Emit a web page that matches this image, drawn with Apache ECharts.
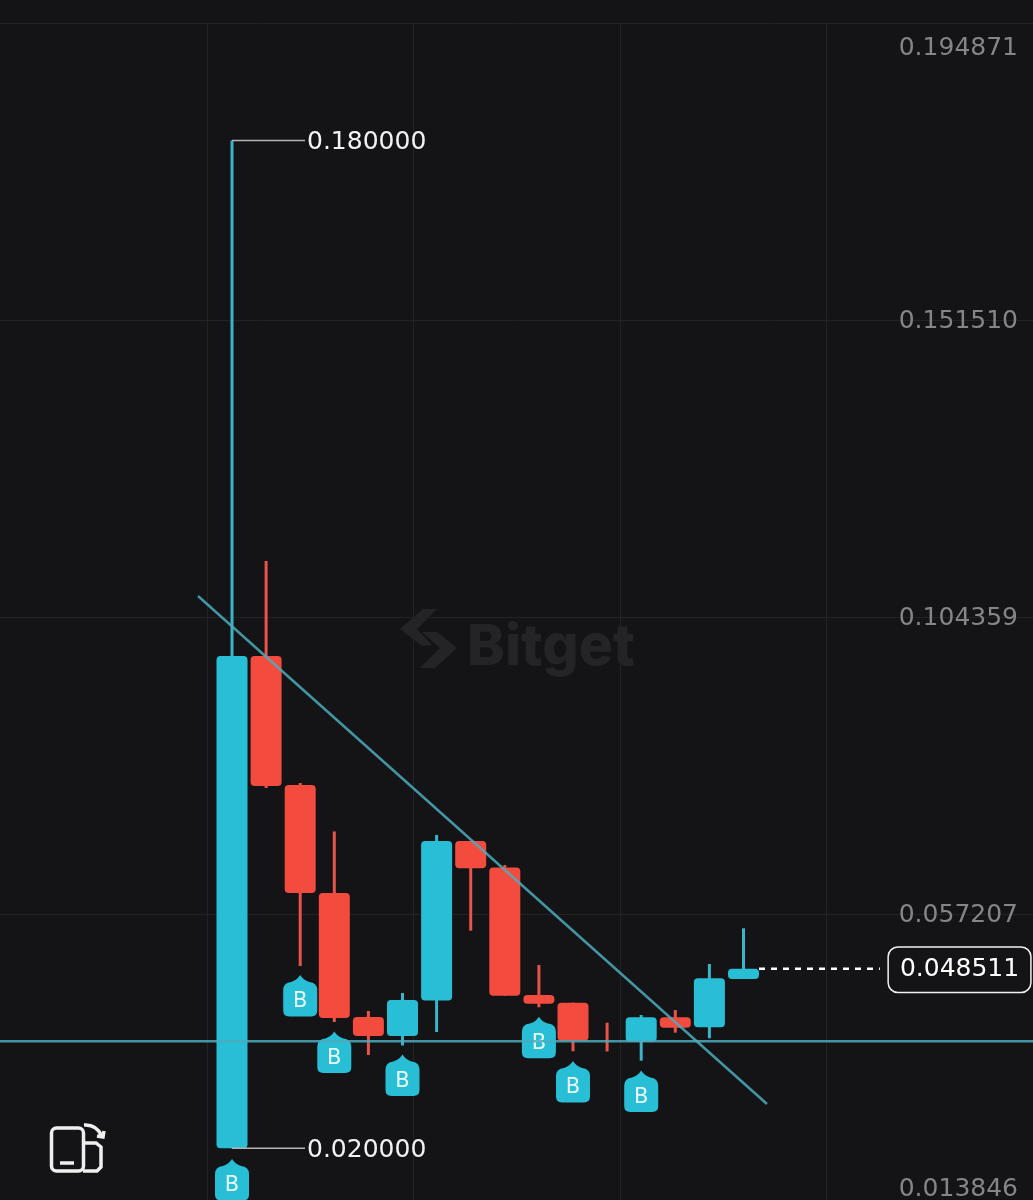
<!DOCTYPE html>
<html lang="en">
<head>
    <meta charset="UTF-8">
    <title>Bitget kline</title>
    <script src="https://cdn.jsdelivr.net/npm/echarts@6/dist/echarts.min.js"></script>
    <style>
        *{
            margin: 0;
            padding: 0;
        }
        body{
            background-color: #141417;
            overflow: hidden;
        }
    </style>
</head>
<body>
<div id="main" style="width:1033px;height:1200px;"></div>

<script>
    // candles, left to right
    var candleIndex = [0, 1, 2, 3, 4, 5, 6, 7, 8, 9, 10, 11, 12, 13, 14, 15];
    var openVals = [0.020000, 0.098167, 0.077687, 0.060541, 0.040854, 0.037838, 0.043474, 0.068796, 0.064589, 0.044347, 0.043125, 0.037000, 0.036933, 0.040807, 0.039219, 0.046887];
    var closeVals = [0.098167, 0.077528, 0.060541, 0.040696, 0.037838, 0.043553, 0.068796, 0.064462, 0.044236, 0.042966, 0.037092, 0.037000, 0.040807, 0.039156, 0.046998, 0.048511];
    var lowVals = [0.020000, 0.077210, 0.048951, 0.040060, 0.034821, 0.036330, 0.038473, 0.054555, 0.044236, 0.042394, 0.035409, 0.035377, 0.033916, 0.038362, 0.037473, 0.046887];
    var highVals = [0.180000, 0.113249, 0.078004, 0.070304, 0.041807, 0.044665, 0.069749, 0.068796, 0.064986, 0.049110, 0.043125, 0.039949, 0.041172, 0.041966, 0.049269, 0.054936];

    // buy markers: candle and price of the marker tip
    var buyIndex = [0, 2, 3, 5, 9, 10, 12];
    var buyPrice = [0.018310, 0.047522, 0.038552, 0.034901, 0.040902, 0.033869, 0.032361];

    // drawn lines
    var trendX = [-0.997, 15.689];
    var trendY = [0.107692, 0.027042];
    var supportPrice = 0.037012;

    var lastPrice = 0.048511;
    var maxPrice = 0.180000;
    var minPrice = 0.020000;

    // y axis
    var priceLabels = [0.013846, 0.057207, 0.104359, 0.151510, 0.194871];
    var priceGrid = [0.010050, 0.057207, 0.104359, 0.151510, 0.198660];
    // vertical grid lines, in candle units
    var timeGrid = [-0.733, 5.308, 11.378, 17.419];

    var xMin = -6.804;
    var xMax = 23.49;

    var upColor = '#27BED6';
    var downColor = '#F44B3F';
    var upWick = '#3AB4C8';
    var downWick = '#E8534A';
    var lineColor = 'rgba(76,172,188,0.85)';
    var font = 'DejaVu Sans';

    var candleData = candleIndex.map(function (x, i) {
        return [x, openVals[i], closeVals[i], lowVals[i], highVals[i]];
    });
    var buyData = buyIndex.map(function (x, i) {
        return [x, buyPrice[i]];
    });
    var trendData = trendX.map(function (x, i) {
        return [x, trendY[i]];
    });

    function renderCandle(params, api) {
        var x = api.value(0);
        var open = api.coord([x, api.value(1)]);
        var close = api.coord([x, api.value(2)]);
        var low = api.coord([x, api.value(3)]);
        var high = api.coord([x, api.value(4)]);
        var isUp = api.value(2) > api.value(1);
        var top = Math.min(open[1], close[1]);
        var h = Math.abs(open[1] - close[1]);
        var children = [{
            type: 'rect',
            shape: {x: open[0] - 1.5, y: high[1], width: 3, height: low[1] - high[1]},
            style: {fill: isUp ? upWick : downWick}
        }];
        if (h > 0) {
            children.push({
                type: 'rect',
                shape: {x: open[0] - 15.5, y: top, width: 31, height: h, r: 4},
                style: {fill: isUp ? upColor : downColor}
            });
        }
        return {type: 'group', children: children};
    }

    function priceLabel(v) {
        return {show: true, distance: 2, offset: [0, 2], formatter: v.toFixed(6), color: '#F2F2F2', fontFamily: font, fontSize: 25};
    }

    var lastLabel = priceLabel(lastPrice);
    lastLabel.distance = 9;
    lastLabel.offset = [0, 1];
    lastLabel.color = '#FFFFFF';
    lastLabel.lineHeight = 26;
    lastLabel.backgroundColor = '#141417';
    lastLabel.borderColor = '#F2F2F2';
    lastLabel.borderWidth = 1.5;
    lastLabel.borderRadius = 9;
    lastLabel.padding = [11, 11, 7, 11];

    var myChart = echarts.init(document.getElementById('main'));
    var option = {
        animation: false,
        backgroundColor: '#141417',
        grid: {left: 0, right: 0, top: 23, bottom: -11, outerBoundsMode: 'none'},
        xAxis: {
            type: 'value',
            min: xMin,
            max: xMax,
            axisLine: {show: false},
            axisLabel: {show: false},
            axisTick: {show: false, customValues: timeGrid},
            splitLine: {show: true, lineStyle: {color: '#232326', width: 1}}
        },
        yAxis: {
            type: 'value',
            position: 'right',
            min: priceGrid[0],
            max: priceGrid[4],
            axisLine: {show: false},
            axisTick: {show: false, customValues: priceGrid},
            axisLabel: {
                inside: true,
                margin: 15,
                customValues: priceLabels,
                formatter: function (v) { return '{p|' + v.toFixed(6) + '}'; },
                rich: {
                    p: {color: '#858587', fontFamily: font, fontSize: 25, padding: [4, 0, 0, 0]}
                }
            },
            splitLine: {show: true, lineStyle: {color: '#232326', width: 1}}
        },
        graphic: [
            // watermark
            {type: 'polygon', z: 0, shape: {points: [[423, 609], [437, 609], [417, 629], [432, 645], [422, 646], [400, 629]]}, style: {fill: '#242426'}},
            {type: 'polygon', z: 0, shape: {points: [[422, 632], [437, 632], [457, 648], [435, 668], [420, 668], [440, 648]]}, style: {fill: '#242426'}},
            {type: 'text', z: 0, left: 467, top: 619, style: {text: 'Bitget', fill: '#242426', fontFamily: 'Inter', fontWeight: 800, fontSize: 57}},
            // rotate icon
            {type: 'rect', z: 5, shape: {x: 51.5, y: 1128, width: 32, height: 43, r: 5}, style: {fill: 'none', stroke: '#EFEFEF', lineWidth: 3.5}},
            {type: 'polyline', z: 5, shape: {points: [[83, 1143], [96, 1143], [101, 1147], [101, 1167], [97, 1171], [83, 1171]]}, style: {fill: 'none', stroke: '#EFEFEF', lineWidth: 3.5}},
            {type: 'line', z: 5, shape: {x1: 60, y1: 1163, x2: 74, y2: 1163}, style: {stroke: '#EFEFEF', lineWidth: 3.5}},
            {type: 'bezierCurve', z: 5, shape: {x1: 84, y1: 1125, cpx1: 96, cpy1: 1124, x2: 102, y2: 1136}, style: {fill: 'none', stroke: '#EFEFEF', lineWidth: 3.5}},
            {type: 'polyline', z: 5, shape: {points: [[97, 1136], [103, 1137], [104, 1131]]}, style: {fill: 'none', stroke: '#EFEFEF', lineWidth: 3.5}}
        ],
        series: [
            {
                name: 'kline',
                type: 'custom',
                z: 2,
                clip: false,
                renderItem: renderCandle,
                encode: {x: 0, y: [1, 2, 3, 4]},
                data: candleData
            },
            {
                name: 'buy',
                type: 'scatter',
                z: 3,
                clip: false,
                symbol: 'path://M17 0 Q20 5 26 7 Q34 8 34 15 L34 36 Q34 42 28 42 L6 42 Q0 42 0 36 L0 15 Q0 8 8 7 Q14 5 17 0 Z',
                symbolSize: [34, 41.5],
                symbolOffset: [0, 20.75],
                itemStyle: {color: upColor, opacity: 1},
                label: {
                    show: true,
                    position: 'inside',
                    offset: [0, 6],
                    formatter: 'B',
                    color: '#E9FBFF',
                    fontFamily: font,
                    fontSize: 21
                },
                data: buyData
            },
            {
                name: 'trend',
                type: 'line',
                z: 4,
                symbol: 'none',
                lineStyle: {color: lineColor, width: 2.5},
                data: trendData
            },
            {
                name: 'support',
                type: 'line',
                z: 4,
                symbol: 'none',
                lineStyle: {color: lineColor, width: 2.5},
                data: [[xMin, supportPrice], [xMax, supportPrice]]
            },
            {
                name: 'high',
                type: 'line',
                z: 4,
                symbol: 'none',
                lineStyle: {color: '#B4B4B6', width: 1.5},
                endLabel: priceLabel(maxPrice),
                data: [[0, maxPrice], [2.141, maxPrice]]
            },
            {
                name: 'low',
                type: 'line',
                z: 4,
                symbol: 'none',
                lineStyle: {color: '#B4B4B6', width: 1.5},
                endLabel: priceLabel(minPrice),
                data: [[0, minPrice], [2.141, minPrice]]
            },
            {
                name: 'last',
                type: 'line',
                z: 4,
                symbol: 'none',
                lineStyle: {color: '#FFFFFF', width: 2.5, type: [6, 6]},
                endLabel: lastLabel,
                data: [[15.454, lastPrice], [19.0, lastPrice]]
            }
        ]
    };
    myChart.setOption(option);
</script>
</body>
</html>
